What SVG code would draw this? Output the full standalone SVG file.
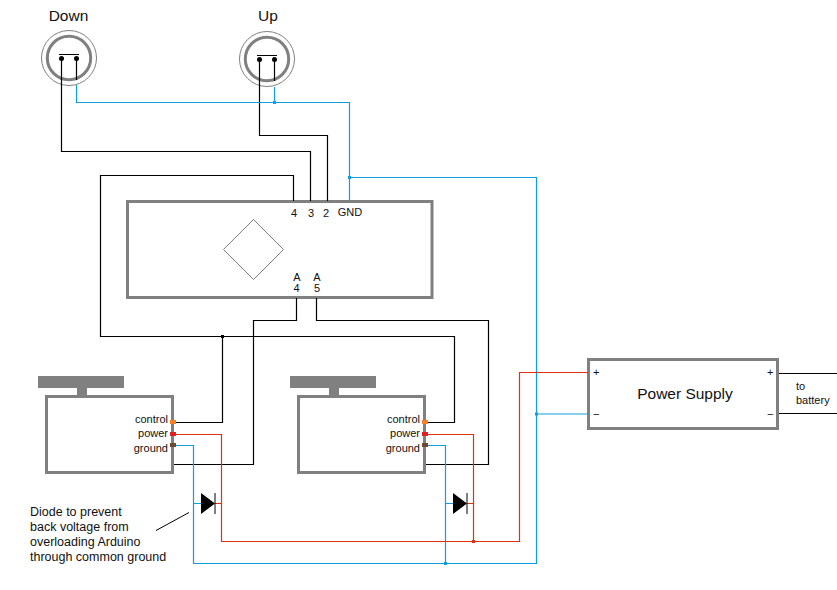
<svg xmlns="http://www.w3.org/2000/svg" width="837" height="590" viewBox="0 0 837 590">
<style>
text{font-family:"Liberation Sans",Arial,sans-serif;fill:#111}
.s{font-size:11px}
.e{text-anchor:end}
.m{text-anchor:middle}
.box{fill:#fff;stroke:#808080;stroke-width:3}
.g{fill:#808080}
.w{fill:none;stroke-width:1.2}
.k{stroke:#000}
.r{stroke:#e0300f}
.b{stroke:#0f9fe0}
.dr{fill:#e0300f}
.db{fill:#0f9fe0}
</style>
<rect width="837" height="590" fill="#fff"/>
<g id="arduino">
<rect class="box" x="127.500" y="201.500" width="304.500" height="96"/>
<path d="M253.500 219.500L283.500 249.500L253.500 279.500L223.500 249.500Z" fill="none" stroke="#808080"/>
<text class="s m" x="294" y="217">4</text><text class="s m" x="311" y="217">3</text><text class="s m" x="326" y="217">2</text><text class="s m" x="350" y="216">GND</text>
<text class="s m" x="297" y="281">A</text><text class="s m" x="296.500" y="292">4</text><text class="s m" x="317" y="281">A</text><text class="s m" x="317" y="292">5</text>
</g>
<g id="btn-down">
<circle cx="69" cy="58" r="27.500" fill="#fff" stroke="#808080"/>
<circle cx="69" cy="58" r="21.700" fill="#fff" stroke="#808080" stroke-width="3"/>
<path d="M59 54.500H79" stroke="#000"/>
<circle cx="61.500" cy="58.500" r="2.500"/><circle cx="76.500" cy="58.500" r="2.500"/>
<text x="68.500" y="21" font-size="15.500" class="m">Down</text>
</g>
<g id="btn-up">
<circle cx="267" cy="59" r="27.500" fill="#fff" stroke="#808080"/>
<circle cx="267" cy="59" r="21.700" fill="#fff" stroke="#808080" stroke-width="3"/>
<path d="M257 55.500H277" stroke="#000"/>
<circle cx="259.500" cy="59.500" r="2.500"/><circle cx="274.500" cy="59.500" r="2.500"/>
<text x="268" y="21" font-size="15.500" class="m">Up</text>
</g>
<g id="servo-1">
<rect class="g" x="38" y="376" width="86" height="12"/><rect class="g" x="77" y="388" width="10" height="7"/>
<rect class="box" x="46.500" y="396.500" width="126" height="76"/>
<text class="s e" x="168" y="423">control</text><text class="s e" x="168" y="437">power</text><text class="s e" x="168" y="452">ground</text>
</g>
<g id="servo-2">
<rect class="g" x="290" y="376" width="86" height="12"/><rect class="g" x="329" y="388" width="10" height="7"/>
<rect class="box" x="298.500" y="396.500" width="126" height="76"/>
<text class="s e" x="420" y="423">control</text><text class="s e" x="420" y="437">power</text><text class="s e" x="420" y="452">ground</text>
</g>
<g id="power-supply">
<rect class="box" x="588.500" y="359.500" width="189" height="69"/>
<text x="685" y="399" font-size="15.500" class="m">Power Supply</text>
<text x="593" y="376" font-size="11">+</text><text x="593" y="418" font-size="11">−</text>
<text x="767" y="376" font-size="11">+</text><text x="767" y="418" font-size="11">−</text>
<text class="s" x="796" y="390">to</text><text class="s" x="796" y="404">battery</text>
</g>
<g id="connectors">
<path class="w k" d="M61.500 58V151.500H310.500V201M259.500 59V135.500H327.500V201M293.500 201V175.500H100.500V336.500H454.500V422.500H426M222.500 336.500V422.500H174M174 464.500H253.500V320.500H296.500V298M316.500 298V320.500H488.500V464.500H426M779 373.500H837M779 413.500H837"/>
<path class="w k" d="M76.500 58V80M274.500 59V81"/>
<path class="w b" d="M76.500 85V102.500H349.500V201M274.500 87V102.500M349.500 177.500H536.500V563.500H193.500V445.500H174M426 445.500H445.500V563.500M536.500 414H588M193.500 503.500H201M445.500 503.500H453"/>
<path class="w r" d="M174 434.500H221.500V541.500H519.500V372.500H588M426 434.500H473.500V541.500M215 503.500H221.500M467 503.500H473.500"/>
<path d="M156 530.500L189 512.500" stroke="#000" fill="none"/>
<rect class="db" x="273" y="101" width="3" height="3"/><rect class="db" x="348" y="176" width="3" height="3"/><rect class="db" x="535" y="412.500" width="3" height="3"/><rect class="db" x="444" y="562" width="3" height="3"/><rect class="dr" x="472" y="540" width="3" height="3"/>
<rect x="221" y="335" width="3" height="3"/>
</g>
<g id="diode-1"><path d="M201 493L215 503.500L201 514Z"/><path d="M215 493V514" stroke="#000"/></g>
<g id="diode-2"><path d="M453 493L467 503.500L453 514Z"/><path d="M467 493V514" stroke="#000"/></g>
<g id="pins">
<rect fill="#f58220" x="170" y="420" width="6" height="4"/><rect fill="#e01f26" x="170" y="432" width="6" height="4"/><rect fill="#6e4a32" x="170" y="443" width="6" height="4"/>
<rect fill="#f58220" x="422" y="420" width="6" height="4"/><rect fill="#e01f26" x="422" y="432" width="6" height="4"/><rect fill="#6e4a32" x="422" y="443" width="6" height="4"/>
</g>
<g id="note" font-size="12.500">
<text x="30" y="516">Diode to prevent</text><text x="30" y="531">back voltage from</text><text x="30" y="546">overloading Arduino</text><text x="30" y="561">through common ground</text>
</g>
</svg>
